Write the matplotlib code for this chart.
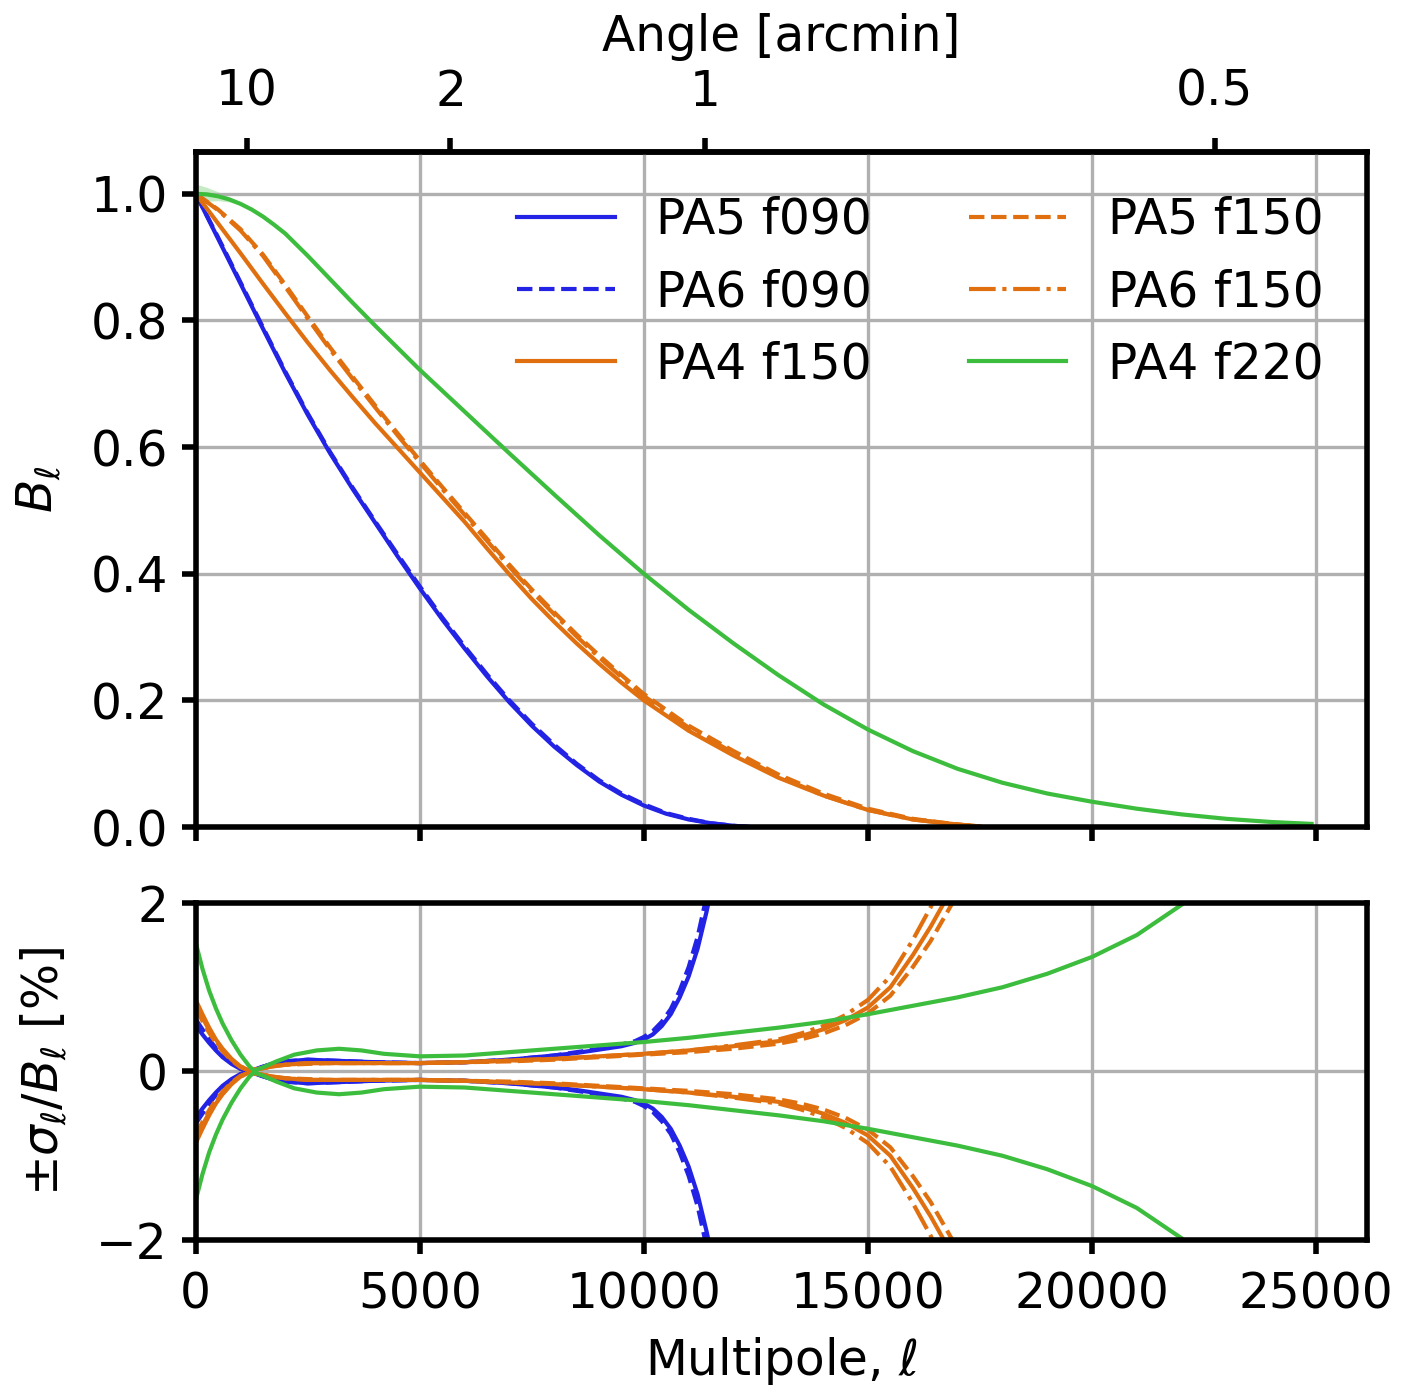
import numpy as np
import matplotlib
matplotlib.use("Agg")
import matplotlib.pyplot as plt
from matplotlib.ticker import NullLocator

# multipole -> arcmin conversion used on the top axis
K_ARCMIN = 11370.0

# ---- beam transfer functions B_ell ----
ell_pa5_f090 = [0, 500, 1000, 1500, 2000, 2500, 3000, 3500, 4000, 4500, 5000, 5500, 6000,
                6500, 7000, 7500, 8000, 8500, 9000, 9500, 10000, 10500, 11000, 11500, 12000, 12400]
b_pa5_f090 = [1.0, 0.929, 0.858, 0.787, 0.717, 0.651, 0.59, 0.534, 0.481, 0.428, 0.377, 0.328,
              0.282, 0.238, 0.197, 0.16, 0.127, 0.098, 0.072, 0.051, 0.034, 0.021, 0.012, 0.006, 0.002, 0.0]
b_pa6_f090 = [1.0, 0.931, 0.86, 0.789, 0.719, 0.653, 0.592, 0.536, 0.483, 0.431, 0.38, 0.331,
              0.285, 0.241, 0.2, 0.163, 0.13, 0.1, 0.074, 0.053, 0.036, 0.022, 0.013, 0.006, 0.002, 0.0]

ell_f150 = [0, 500, 1000, 1500, 2000, 2500, 3000, 3500, 4000, 4500, 5000, 5500, 6000, 6500,
            7000, 7500, 8000, 8500, 9000, 9500, 10000, 11000, 12000, 13000, 14000, 15000,
            16000, 17000, 17500]
b_pa4_f150 = [1.0, 0.953, 0.906, 0.858, 0.811, 0.765, 0.721, 0.679, 0.638, 0.599, 0.56, 0.521,
              0.482, 0.44, 0.399, 0.36, 0.324, 0.29, 0.258, 0.228, 0.2, 0.152, 0.113, 0.078,
              0.05, 0.027, 0.012, 0.004, 0.001]
b_pa5_f150 = [1.0, 0.975, 0.944, 0.904, 0.856, 0.806, 0.757, 0.711, 0.666, 0.622, 0.579, 0.537,
              0.496, 0.455, 0.414, 0.375, 0.339, 0.304, 0.271, 0.24, 0.21, 0.16, 0.12, 0.083,
              0.053, 0.029, 0.013, 0.004, 0.001]
b_pa6_f150 = [1.0, 0.974, 0.942, 0.902, 0.853, 0.803, 0.754, 0.708, 0.663, 0.619, 0.576, 0.534,
              0.493, 0.452, 0.411, 0.372, 0.336, 0.301, 0.268, 0.237, 0.207, 0.157, 0.117, 0.08,
              0.05, 0.027, 0.012, 0.004, 0.001]

ell_pa4_f220 = [0, 250, 500, 750, 1000, 1250, 1500, 1750, 2000, 2500, 3000, 3500, 4000, 4500,
                5000, 6000, 7000, 8000, 9000, 10000, 11000, 12000, 13000, 14000, 15000, 16000,
                17000, 18000, 19000, 20000, 21000, 22000, 23000, 24000, 24900]
b_pa4_f220 = [1.0, 0.999, 0.996, 0.991, 0.984, 0.975, 0.964, 0.951, 0.937, 0.902, 0.865, 0.828,
              0.792, 0.757, 0.722, 0.656, 0.59, 0.525, 0.461, 0.40, 0.343, 0.29, 0.24, 0.194,
              0.154, 0.12, 0.092, 0.07, 0.053, 0.04, 0.029, 0.02, 0.013, 0.008, 0.005]

# small error band on PA4 f220 at low ell
band_ell = [0, 250, 500, 750, 1000]
band_b = [1.0, 0.999, 0.996, 0.991, 0.984]
band_sig = [1.53, 1.1, 0.7, 0.4, 0.2]

# ---- fractional beam errors sigma_ell / B_ell [%] ----
ell_sig_f090 = [0, 150, 300, 450, 600, 800, 1000, 1200, 1400, 1700, 2000, 2500, 3000, 4000,
                5000, 6000, 7000, 8000, 8500, 9000, 9500, 9800, 10000, 10200, 10400, 10600,
                10800, 11000, 11200, 11400, 11500, 11600]
sig_pa5_f090 = [0.55, 0.44, 0.34, 0.25, 0.17, 0.09, 0.03, 0.0, 0.04, 0.09, 0.12, 0.14, 0.13,
                0.11, 0.1, 0.11, 0.14, 0.19, 0.22, 0.26, 0.3, 0.34, 0.38, 0.44, 0.54, 0.68,
                0.88, 1.13, 1.46, 1.9, 2.15, 2.4]
sig_pa6_f090 = [0.62, 0.5, 0.38, 0.28, 0.19, 0.1, 0.035, 0.0, 0.04, 0.09, 0.12, 0.14, 0.13,
                0.11, 0.1, 0.11, 0.14, 0.19, 0.23, 0.27, 0.32, 0.36, 0.41, 0.48, 0.59, 0.74,
                0.96, 1.24, 1.6, 2.08, 2.35, 2.6]

ell_sig_f150 = [0, 150, 300, 450, 600, 800, 1000, 1200, 1400, 1700, 2000, 2500, 3000, 4000,
                5000, 6000, 7000, 8000, 9000, 10000, 11000, 12000, 13000, 13500, 14000, 14500,
                15000, 15500, 16000, 16400, 16800, 17200]
sig_pa4_f150 = [0.85, 0.68, 0.52, 0.38, 0.27, 0.15, 0.06, 0.01, 0.03, 0.06, 0.08, 0.1, 0.1,
                0.1, 0.1, 0.11, 0.13, 0.15, 0.18, 0.21, 0.25, 0.3, 0.36, 0.42, 0.5, 0.61,
                0.76, 1.0, 1.38, 1.72, 2.1, 2.5]
sig_pa5_f150 = [0.75, 0.6, 0.46, 0.34, 0.24, 0.13, 0.05, 0.01, 0.03, 0.06, 0.08, 0.09, 0.1,
                0.1, 0.1, 0.11, 0.12, 0.14, 0.17, 0.2, 0.23, 0.27, 0.33, 0.38, 0.45, 0.55,
                0.69, 0.9, 1.24, 1.55, 1.92, 2.3]
sig_pa6_f150 = [0.8, 0.64, 0.49, 0.36, 0.26, 0.14, 0.06, 0.01, 0.03, 0.06, 0.08, 0.1, 0.1,
                0.1, 0.1, 0.11, 0.13, 0.15, 0.18, 0.21, 0.25, 0.31, 0.38, 0.45, 0.54, 0.67,
                0.85, 1.13, 1.56, 1.95, 2.4, 2.8]

ell_sig_f220 = [0, 150, 300, 450, 600, 800, 1000, 1200, 1300, 1500, 1800, 2200, 2700, 3200,
                3700, 4200, 5000, 6000, 7000, 8000, 9000, 10000, 11000, 12000, 13000, 14000,
                15000, 16000, 17000, 18000, 19000, 20000, 21000, 22000, 22500]
sig_pa4_f220 = [1.53, 1.22, 0.96, 0.75, 0.57, 0.37, 0.2, 0.06, 0.01, 0.05, 0.12, 0.2, 0.25,
                0.27, 0.25, 0.21, 0.18, 0.19, 0.23, 0.27, 0.31, 0.35, 0.4, 0.46, 0.52, 0.59,
                0.68, 0.78, 0.88, 1.0, 1.16, 1.36, 1.62, 1.98, 2.2]

BLUE = '#2323e6'
ORANGE = '#e0700f'
GREEN = '#3dbd3d'

plt.rcParams.update({
    'font.size': 17.5,
    'axes.linewidth': 2.0,
    'xtick.major.width': 2.0,
    'ytick.major.width': 2.0,
    'xtick.major.size': 5,
    'ytick.major.size': 5,
    'xtick.major.pad': 6,
    'ytick.major.pad': 5,
    'grid.color': '#b0b0b0',
    'grid.linewidth': 1.2,
})

fig = plt.figure(figsize=(7.04, 6.97), dpi=200)
ax1 = fig.add_axes([0.139, 0.4067, 0.832, 0.4843])
ax2 = fig.add_axes([0.139, 0.1105, 0.832, 0.2417], sharex=ax1)

lw = 1.5
series = [
    ('PA5 f090', ell_pa5_f090, b_pa5_f090, ell_sig_f090, sig_pa5_f090, BLUE, '-'),
    ('PA6 f090', ell_pa5_f090, b_pa6_f090, ell_sig_f090, sig_pa6_f090, BLUE, '--'),
    ('PA4 f150', ell_f150, b_pa4_f150, ell_sig_f150, sig_pa4_f150, ORANGE, '-'),
    ('PA5 f150', ell_f150, b_pa5_f150, ell_sig_f150, sig_pa5_f150, ORANGE, '--'),
    ('PA6 f150', ell_f150, b_pa6_f150, ell_sig_f150, sig_pa6_f150, ORANGE, '-.'),
    ('PA4 f220', ell_pa4_f220, b_pa4_f220, ell_sig_f220, sig_pa4_f220, GREEN, '-'),
]

for name, ell, b, ell_s, sig, col, ls in series:
    ax1.plot(ell, b, color=col, ls=ls, lw=lw, label=name)
    sig = np.array(sig)
    ax2.plot(ell_s, sig, color=col, ls=ls, lw=lw)
    ax2.plot(ell_s, -sig, color=col, ls=ls, lw=lw)

bb = np.array(band_b)
bs = np.array(band_sig) / 100
ax1.fill_between(band_ell, bb * (1 - bs), bb * (1 + bs), color=GREEN, alpha=0.3, lw=0)

ax1.set_xlim(0, 26140)
ax1.set_ylim(0, 1.066)
ax1.set_ylabel(r'$B_\ell$', labelpad=10)
ax1.grid(True)
ax1.tick_params(labelbottom=False)
ax1.legend(loc='upper right', ncol=2, frameon=False, handlelength=2.0,
           handletextpad=0.85, columnspacing=2.0, borderaxespad=0.5)


def ell_to_arcmin(x):
    x = np.asarray(x, dtype=float)
    return K_ARCMIN / np.maximum(x, 1e-3)


sec = ax1.secondary_xaxis('top', functions=(ell_to_arcmin, ell_to_arcmin))
sec.set_xticks([10, 2, 1, 0.5], labels=['10', '2', '1', '0.5'])
sec.xaxis.set_minor_locator(NullLocator())
sec.tick_params(pad=8)
sec.set_xlabel('Angle [arcmin]', labelpad=6)

ax2.set_ylim(-2, 2)
ax2.set_yticks([-2, 0, 2])
ax2.set_xticks([0, 5000, 10000, 15000, 20000, 25000])
ax2.set_xlabel(r'Multipole, $\ell$', labelpad=6)
ax2.set_ylabel(r'$\pm\sigma_\ell/B_\ell$ [%]', labelpad=10)
ax2.grid(True)

fig.savefig('out.png', dpi=200)
